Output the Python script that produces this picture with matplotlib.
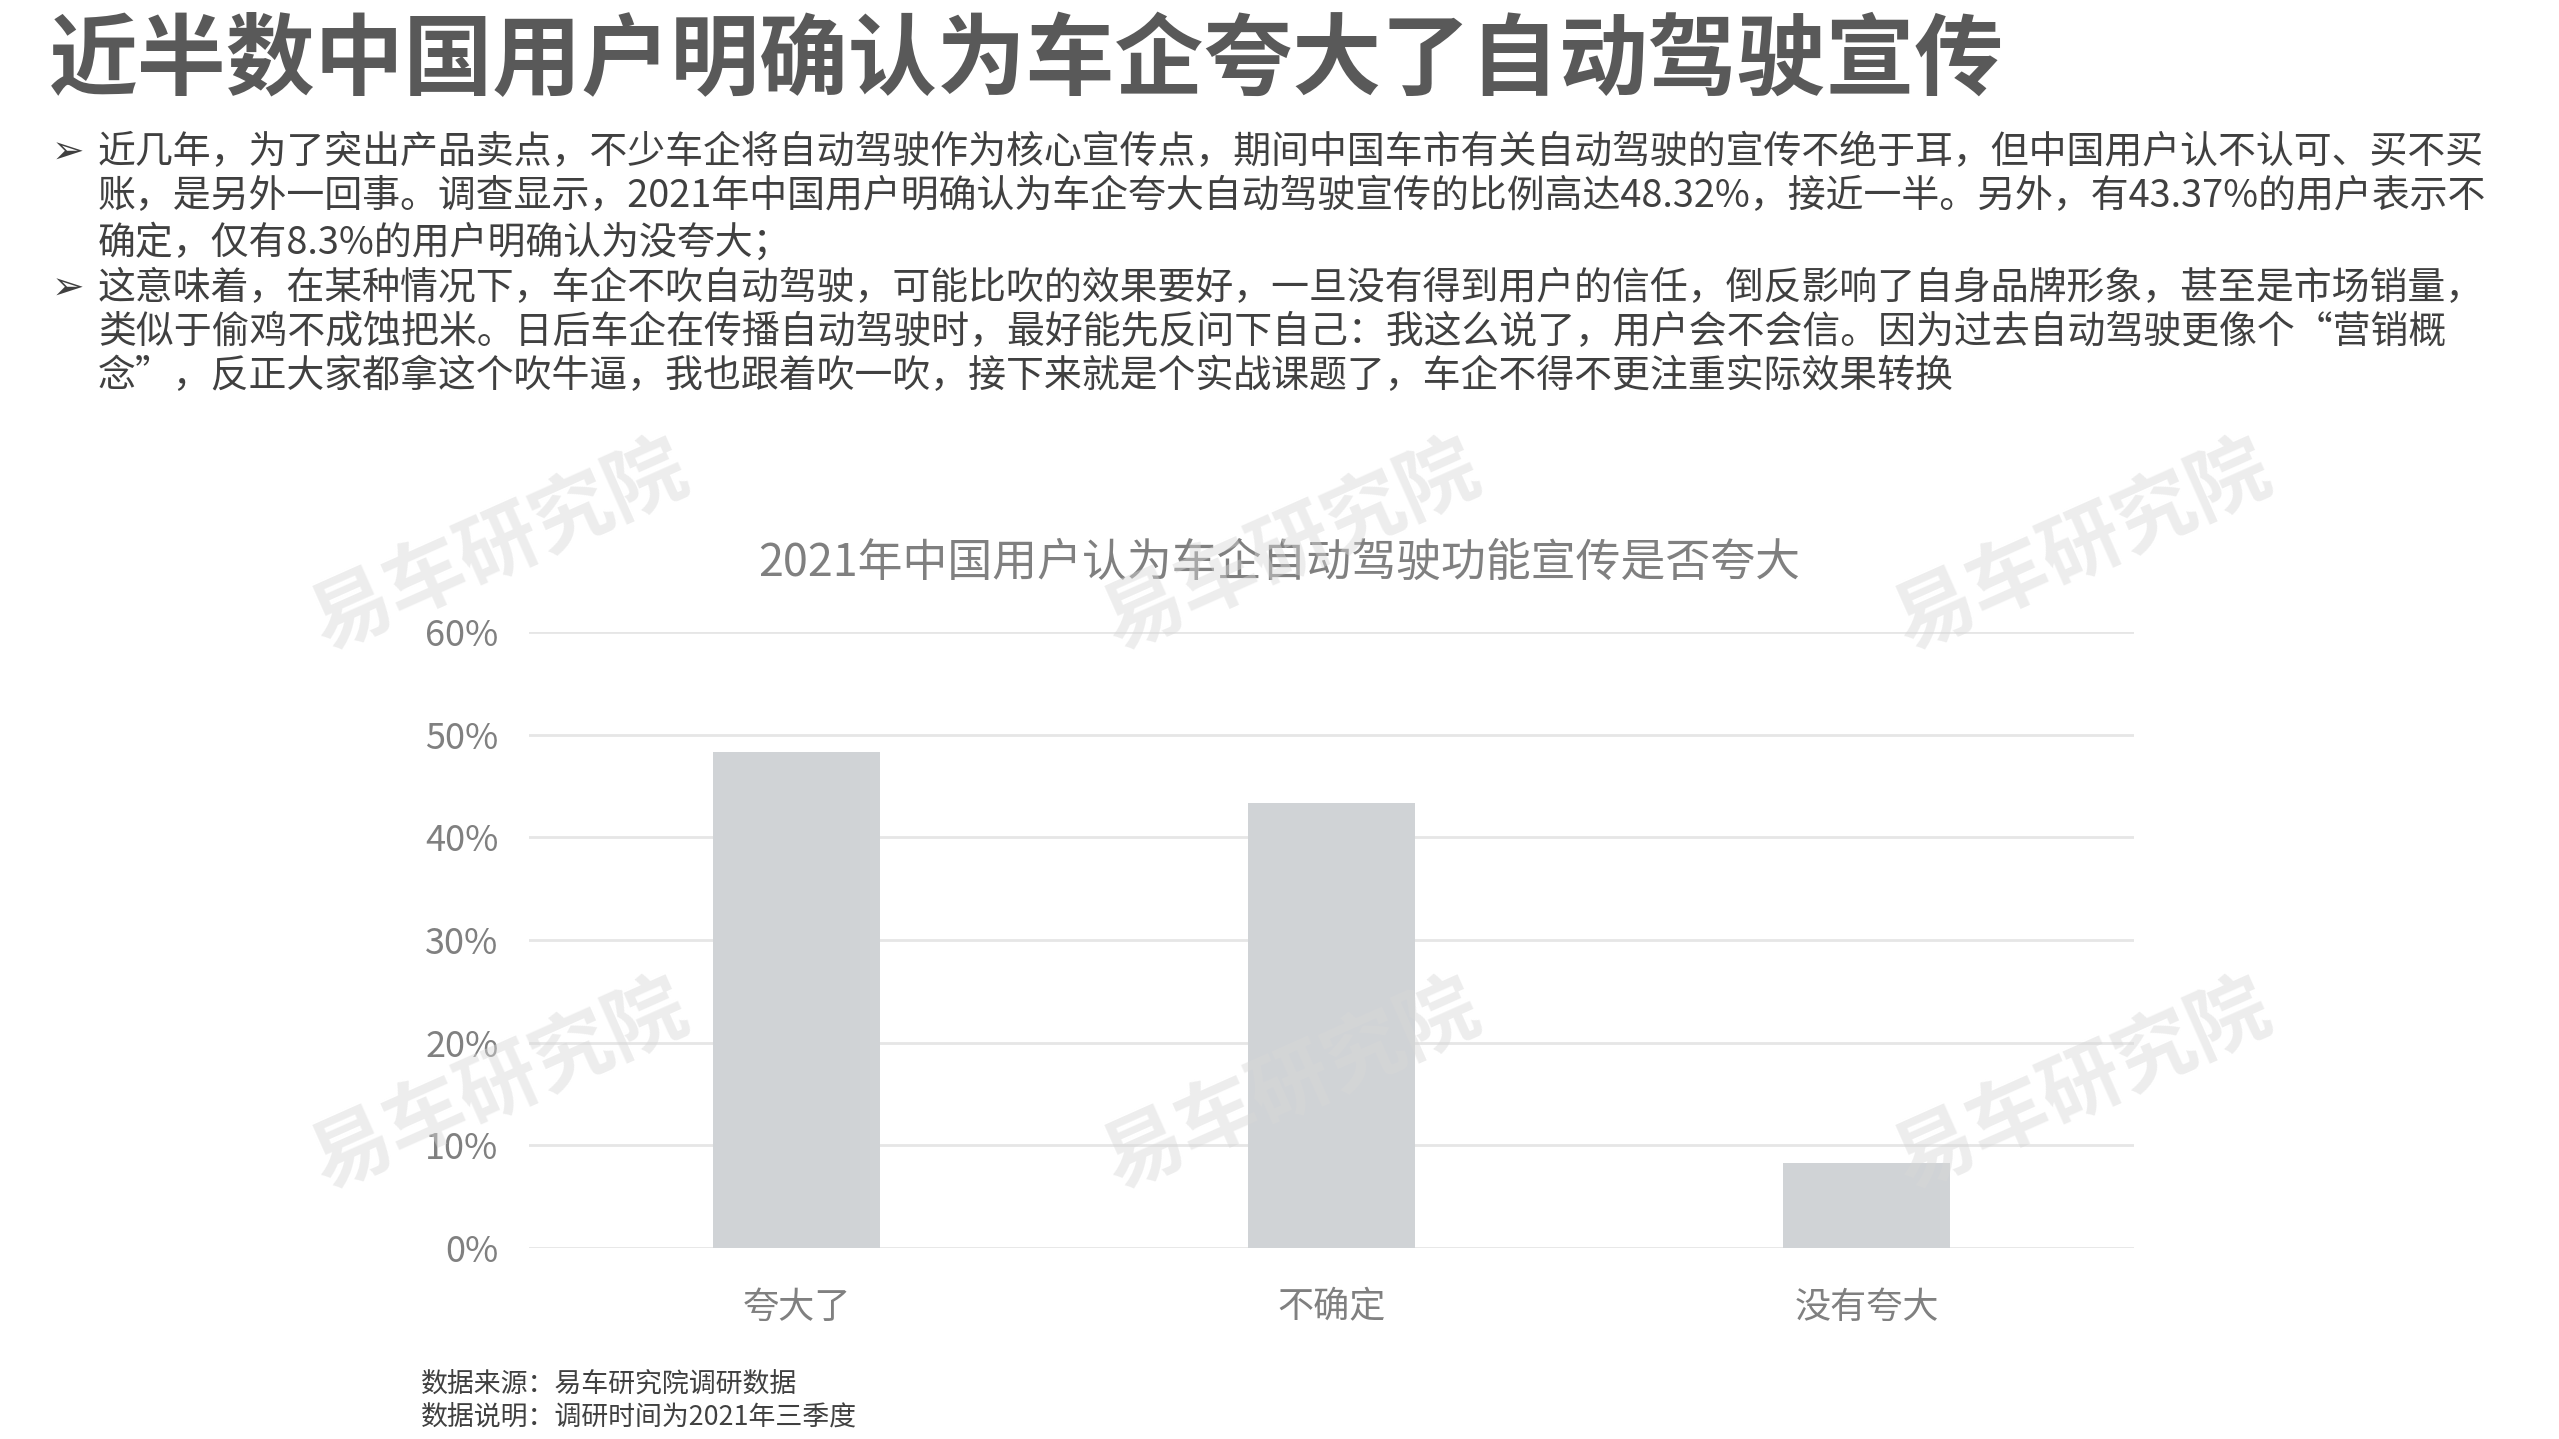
import matplotlib
matplotlib.use("Agg")
import matplotlib.pyplot as plt

plt.rcParams['font.family'] = ['Noto Sans CJK SC', 'DejaVu Sans']

categories = ["夸大了", "不确定", "没有夸大"]
values = [48.32, 43.37, 8.3]
yticks = [0, 10, 20, 30, 40, 50, 60]
ytick_labels = ["0%", "10%", "20%", "30%", "40%", "50%", "60%"]

title = "近半数中国用户明确认为车企夸大了自动驾驶宣传"
chart_title = "2021年中国用户认为车企自动驾驶功能宣传是否夸大"
body = [
    ("➢", "近几年，为了突出产品卖点，不少车企将自动驾驶作为核心宣传点，期间中国车市有关自动驾驶的宣传不绝于耳，但中国用户认不认可、买不买"),
    ("", "账，是另外一回事。调查显示，2021年中国用户明确认为车企夸大自动驾驶宣传的比例高达48.32%，接近一半。另外，有43.37%的用户表示不"),
    ("", "确定，仅有8.3%的用户明确认为没夸大；"),
    ("➢", "这意味着，在某种情况下，车企不吹自动驾驶，可能比吹的效果要好，一旦没有得到用户的信任，倒反影响了自身品牌形象，甚至是市场销量，"),
    ("", "类似于偷鸡不成蚀把米。日后车企在传播自动驾驶时，最好能先反问下自己：我这么说了，用户会不会信。因为过去自动驾驶更像个“营销概"),
    ("", "念”，反正大家都拿这个吹牛逼，我也跟着吹一吹，接下来就是个实战课题了，车企不得不更注重实际效果转换"),
]
notes = ["数据来源：易车研究院调研数据", "数据说明：调研时间为2021年三季度"]

W, H = 2559, 1439
fig = plt.figure(figsize=(W / 100, H / 100), dpi=100)
fig.patch.set_facecolor("white")

# headline
fig.text(49 / W, 1 - 62 / H, title, fontsize=64, fontweight="heavy",
         color="#595959", va="center", ha="left")

# body text
line_y = [153, 197, 243, 289, 333, 377]
for (bullet, line), y in zip(body, line_y):
    if bullet:
        fig.text(52 / W, 1 - y / H, bullet, fontsize=28, color="#404040",
                 va="center", ha="left", family=["DejaVu Sans"])
    fig.text(98 / W, 1 - y / H, line, fontsize=27.3, color="#404040",
             va="center", ha="left")

# chart
ax = fig.add_axes([529 / W, 1 - 1248 / H, (2134 - 529) / W, (1248 - 632) / H])
x = range(len(categories))
ax.bar(x, values, width=0.312, color="#d0d3d6", zorder=2)
ax.set_xlim(-0.5, len(categories) - 0.5)
ax.set_ylim(0, 60)
ax.set_yticks(yticks)
ax.set_yticklabels(ytick_labels)
ax.set_xticks(list(x))
ax.set_xticklabels(categories)
ax.tick_params(axis="both", length=0, labelsize=26, labelcolor="#808080")
ax.tick_params(axis="y", pad=22)
ax.tick_params(axis="x", pad=30)
ax.yaxis.grid(True, color="#e6e6e6", linewidth=2, zorder=0)
for s in ax.spines.values():
    s.set_visible(False)

fig.text(0.5, 1 - 563 / H, chart_title, fontsize=32.3, color="#808080",
         ha="center", va="center")

# watermarks
for cx in [300, 785, 1270]:
    for cy in [335, 665]:
        fig.text((cx * 1.632 + 10) / W, 1 - (cy * 1.632) / H, "易车研究院", fontsize=58,
                 fontweight="bold", color="#d8d8d8", alpha=0.45, rotation=24,
                 ha="center", va="center", zorder=10)

# footer
for note, y in zip(notes, [1384, 1417]):
    fig.text(421 / W, 1 - y / H, note, fontsize=19.4, color="#404040",
             ha="left", va="center")

fig.savefig("out.png", dpi=100)
